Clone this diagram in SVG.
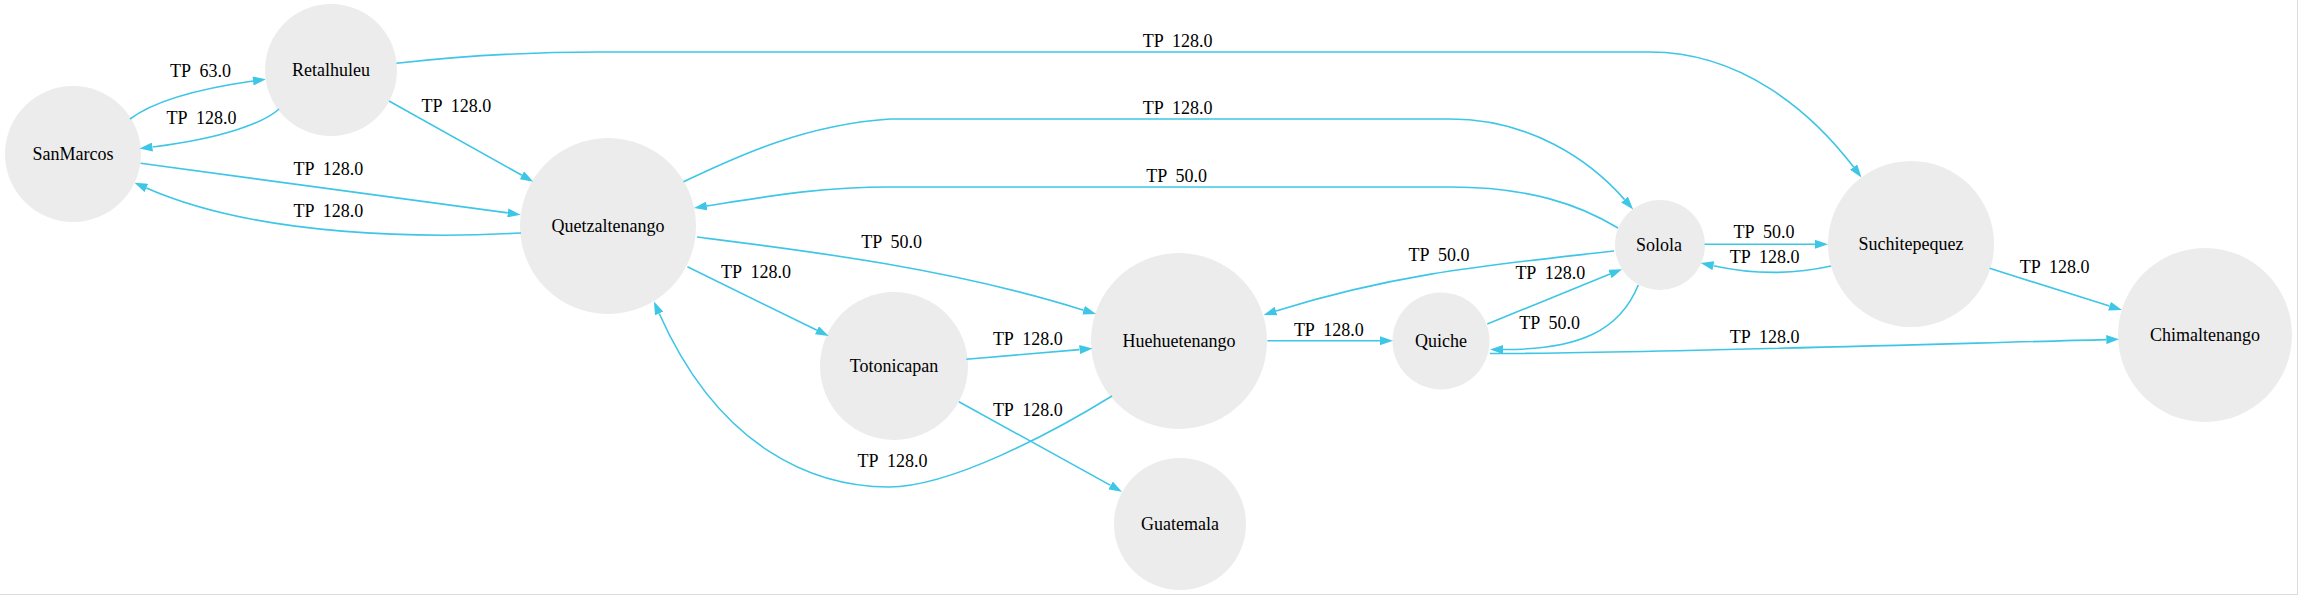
<svg xmlns="http://www.w3.org/2000/svg" width="2298" height="595" viewBox="0 0 2298 595">
<style>
.node{fill:#ececec;stroke:none}
.nl{font-family:"Liberation Serif","Times New Roman",serif;font-size:18px;fill:#000;text-anchor:middle}
.e{fill:none;stroke:#3ec6e6;stroke-width:1.6;marker-end:url(#ah)}
.el{font-family:"Liberation Serif","Times New Roman",serif;font-size:18px;fill:#000;text-anchor:middle;white-space:pre}
</style>
<defs>
<marker id="ah" viewBox="0 0 13 9" refX="0" refY="4.5" markerWidth="13" markerHeight="9" markerUnits="userSpaceOnUse" orient="auto">
<path d="M0,0 L13,4.5 L0,9 z" fill="#3ec6e6"/>
</marker>
</defs>
<rect width="2298" height="595" fill="#fff"/>
<line x1="0" y1="594.5" x2="2298" y2="594.5" stroke="#dcdcdc"/>
<line x1="2297.5" y1="0" x2="2297.5" y2="595" stroke="#dcdcdc"/>

<g id="nodes">
<g id="SanMarcos"><circle class="node" cx="73" cy="154" r="68"/><text class="nl" x="73" y="159.5">SanMarcos</text></g>
<g id="Retalhuleu"><circle class="node" cx="331" cy="70" r="66"/><text class="nl" x="331" y="75.5">Retalhuleu</text></g>
<g id="Quetzaltenango"><circle class="node" cx="608" cy="226" r="88"/><text class="nl" x="608" y="231.5">Quetzaltenango</text></g>
<g id="Totonicapan"><circle class="node" cx="894" cy="366" r="74"/><text class="nl" x="894" y="371.5">Totonicapan</text></g>
<g id="Huehuetenango"><circle class="node" cx="1179" cy="341" r="88"/><text class="nl" x="1179" y="346.5">Huehuetenango</text></g>
<g id="Guatemala"><circle class="node" cx="1180" cy="524" r="66"/><text class="nl" x="1180" y="529.5">Guatemala</text></g>
<g id="Quiche"><circle class="node" cx="1441" cy="341" r="48.5"/><text class="nl" x="1441" y="346.5">Quiche</text></g>
<g id="Solola"><circle class="node" cx="1660" cy="245" r="45"/><text class="nl" x="1659" y="250.5">Solola</text></g>
<g id="Suchitepequez"><circle class="node" cx="1911" cy="244" r="83"/><text class="nl" x="1911" y="249.5">Suchitepequez</text></g>
<g id="Chimaltenango"><circle class="node" cx="2205" cy="335" r="87"/><text class="nl" x="2205" y="340.5">Chimaltenango</text></g>
</g>

<g id="connectors">
<path class="e" d="M130,119 C150,104 190,90 253,81"/>
<text class="el" x="200.5" y="76.5">TP  63.0</text>
<path class="e" d="M279,109 C265,122 225,138 152.4,147"/>
<text class="el" x="201.5" y="123.5">TP  128.0</text>
<path class="e" d="M389,101 L521.9,175.3"/>
<text class="el" x="456.4" y="112.3">TP  128.0</text>
<path class="e" d="M140.6,163.3 L507.8,212.9"/>
<text class="el" x="328.4" y="175">TP  128.0</text>
<path class="e" d="M521,233 C430,238 260,238 146.4,188"/>
<text class="el" x="328.4" y="216.7">TP  128.0</text>
<path class="e" d="M396.5,63.3 C460,56 520,52 600,52 L1650,52 C1740,52 1810,110 1853.6,167.1"/>
<text class="el" x="1177.6" y="46.7">TP  128.0</text>
<path class="e" d="M683.5,181.7 C730,160 800,125 890,119 L1450,119 C1530,119 1590,160 1624.6,199.6"/>
<text class="el" x="1177.6" y="114.3">TP  128.0</text>
<path class="e" d="M1618,228 C1580,205 1530,187 1450,187 L890,187 C820,187 770,196 706.8,206"/>
<text class="el" x="1176.6" y="182.3">TP  50.0</text>
<path class="e" d="M697,237 C800,250 950,268 1083.6,310.2"/>
<text class="el" x="891.7" y="248.3">TP  50.0</text>
<path class="e" d="M687.4,266.7 L817,330.3"/>
<text class="el" x="756" y="278.3">TP  128.0</text>
<path class="e" d="M1112,396 C1052,433 950,487 889,487 C815,487 720,450 659.2,313.5"/>
<text class="el" x="892.5" y="466.7">TP  128.0</text>
<path class="e" d="M966.4,359.3 L1079.6,349.6"/>
<text class="el" x="1027.8" y="345">TP  128.0</text>
<path class="e" d="M958.9,401.7 L1110.6,485.4"/>
<text class="el" x="1027.8" y="415.7">TP  128.0</text>
<path class="e" d="M1267.4,340.7 L1380,340.7"/>
<text class="el" x="1328.8" y="335.7">TP  128.0</text>
<path class="e" d="M1614,251 C1500,264 1400,272 1276,311"/>
<text class="el" x="1439" y="261">TP  50.0</text>
<path class="e" d="M1487.3,324 C1530,307 1570,290 1610,274"/>
<text class="el" x="1550.3" y="278.7">TP  128.0</text>
<path class="e" d="M1638.3,285 C1620,330 1580,350 1503,349.5"/>
<text class="el" x="1549.7" y="329">TP  50.0</text>
<path class="e" d="M1490,353.5 C1600,354 1900,345 2106.3,339.6"/>
<text class="el" x="1764.6" y="343.3">TP  128.0</text>
<path class="e" d="M1704.6,244.3 L1815,244.3"/>
<text class="el" x="1764" y="238.3">TP  50.0</text>
<path class="e" d="M1831,266 C1800,273 1760,276 1713.4,265.7"/>
<text class="el" x="1764.6" y="263.3">TP  128.0</text>
<path class="e" d="M1989.6,268.3 L2109.5,306.1"/>
<text class="el" x="2054.7" y="272.7">TP  128.0</text>
</g>
</svg>
